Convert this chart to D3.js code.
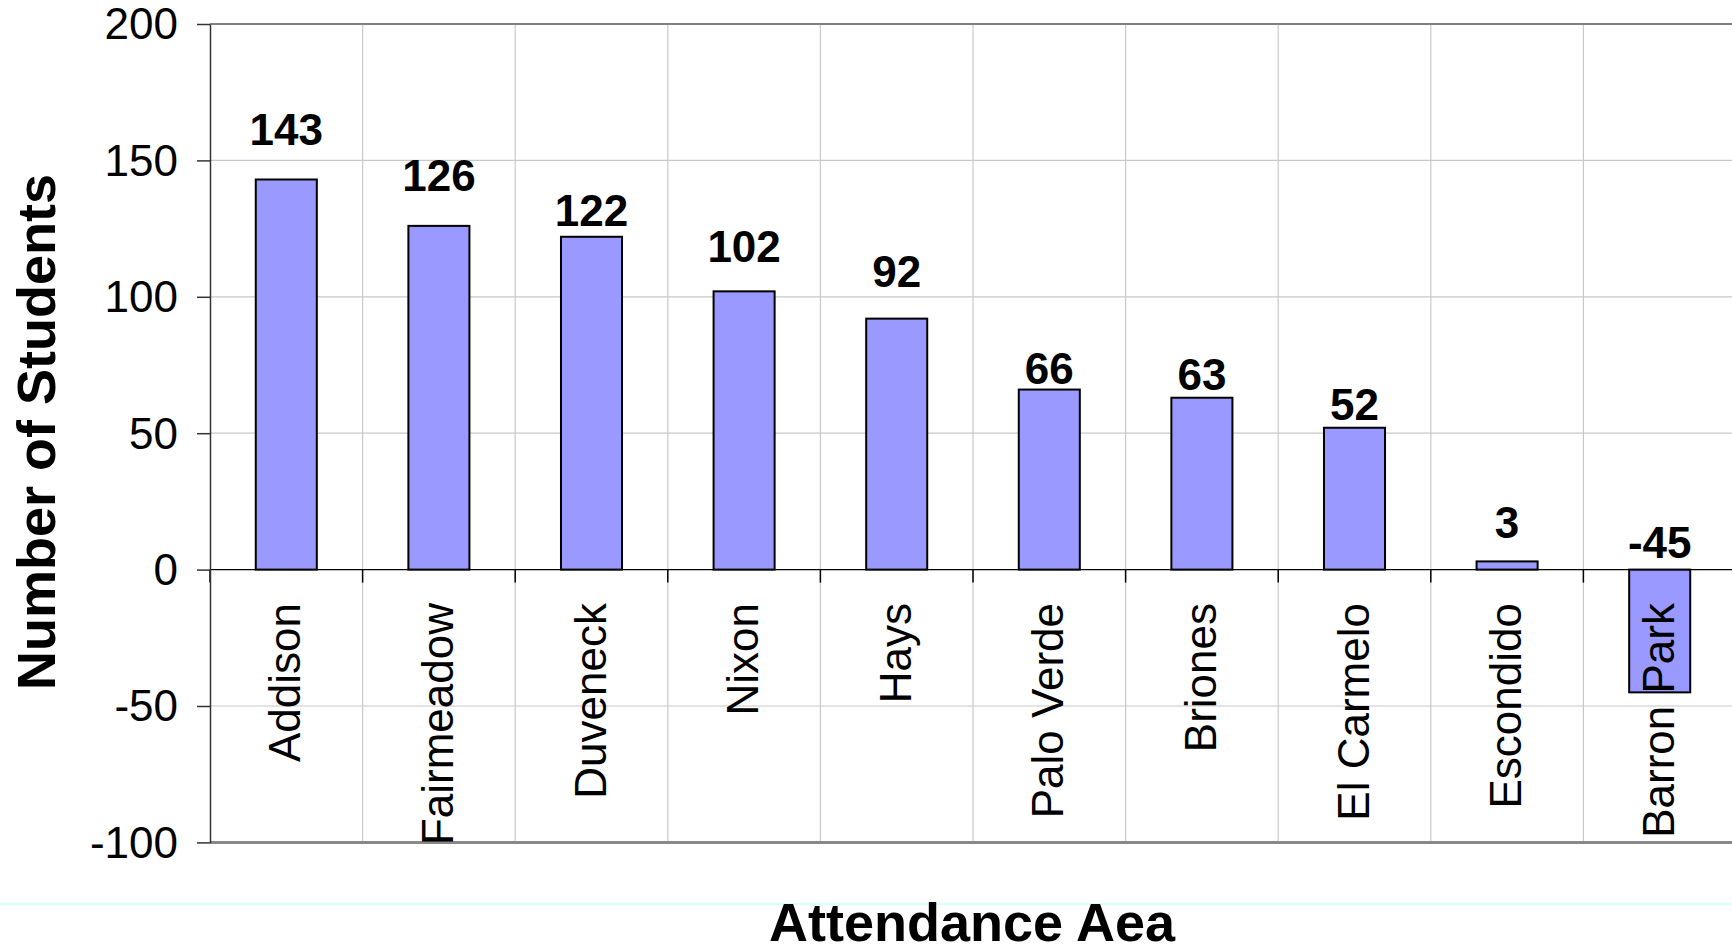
<!DOCTYPE html>
<html>
<head>
<meta charset="utf-8">
<script src="https://cdn.jsdelivr.net/npm/d3@7"></script>
<style>
  body { margin: 0; background: #fff; }
  text { font-family: 'Liberation Sans', Arial, sans-serif; }
</style>
</head>
<body>
<script>
// ---- data ----
var areas = ['Addison', 'Fairmeadow', 'Duveneck', 'Nixon', 'Hays', 'Palo Verde', 'Briones', 'El Carmelo', 'Escondido', 'Barron Park'];
var students = [143, 126, 122, 102, 92, 66, 63, 52, 3, -45];
// where each value label sits, in axis units (labels were placed by hand in the original)
var labelAnchor = [155.6, 138.8, 126, 112.9, 103.5, 67.9, 65.8, 54.8, 11.6, 4.3];
var yTicks = [-100, -50, 0, 50, 100, 150, 200];

var W = 1732, H = 947;
var LEFT = 210, RIGHT = 1736, TOP = 24, BOTTOM = 842.4;

var svg = d3.select('body').append('svg')
  .attr('width', W)
  .attr('height', H);

svg.append('rect').attr('width', W).attr('height', H).attr('fill', '#fff');

var x = d3.scaleBand().domain(areas).range([LEFT, RIGHT]);
var y = d3.scaleLinear().domain([-100, 200]).range([BOTTOM, TOP]);

// ---- grid ----
svg.selectAll('.hgrid')
  .data(yTicks.filter(function(d) { return d !== 200 && d !== -100 && d !== 0; }))
  .enter().append('line')
  .attr('class', 'hgrid')
  .attr('x1', LEFT).attr('x2', W)
  .attr('y1', function(d) { return y(d); })
  .attr('y2', function(d) { return y(d); })
  .attr('stroke', '#c8c8c8').attr('stroke-width', 1.2);

svg.selectAll('.vgrid')
  .data(areas.slice(1))
  .enter().append('line')
  .attr('class', 'vgrid')
  .attr('x1', function(d) { return x(d); })
  .attr('x2', function(d) { return x(d); })
  .attr('y1', TOP).attr('y2', BOTTOM)
  .attr('stroke', '#c8c8c8').attr('stroke-width', 1.2);

// plot frame top and bottom
svg.append('line').attr('x1', LEFT).attr('x2', W).attr('y1', TOP).attr('y2', TOP)
  .attr('stroke', '#808080').attr('stroke-width', 2);
svg.append('line').attr('x1', LEFT).attr('x2', W).attr('y1', BOTTOM).attr('y2', BOTTOM)
  .attr('stroke', '#888').attr('stroke-width', 3);

// ---- bars ----
var bw = x.bandwidth() * 0.4;
svg.selectAll('.bar')
  .data(students)
  .enter().append('rect')
  .attr('class', 'bar')
  .attr('x', function(d, i) { return x(areas[i]) + (x.bandwidth() - bw) / 2; })
  .attr('y', function(d) { return y(Math.max(0, d)); })
  .attr('width', bw)
  .attr('height', function(d) { return Math.abs(y(d) - y(0)); })
  .attr('fill', '#9999ff')
  .attr('stroke', '#000')
  .attr('stroke-width', 2);

// ---- x axis at zero ----
svg.append('line').attr('x1', LEFT).attr('x2', W).attr('y1', y(0)).attr('y2', y(0))
  .attr('stroke', '#000').attr('stroke-width', 1.2);
svg.selectAll('.xtick')
  .data(areas)
  .enter().append('line')
  .attr('class', 'xtick')
  .attr('x1', function(d) { return x(d); })
  .attr('x2', function(d) { return x(d); })
  .attr('y1', y(0)).attr('y2', y(0) + 13)
  .attr('stroke', '#000').attr('stroke-width', 1.5);

// ---- y axis ----
var yAxis = svg.append('g')
  .attr('transform', 'translate(' + LEFT + ',0)')
  .call(d3.axisLeft(y).tickValues(yTicks).tickSize(13).tickPadding(19).tickSizeOuter(0)
    .tickFormat(function(d) { return String(d); }));
yAxis.select('.domain').attr('stroke', '#333').attr('stroke-width', 1.5);
yAxis.selectAll('.tick line').attr('stroke', '#333').attr('stroke-width', 1.5);
yAxis.selectAll('.tick text')
  .attr('font-family', "'Liberation Sans', Arial, sans-serif")
  .attr('font-size', 44)
  .attr('fill', '#000')
  .attr('dy', '0.34em');

// ---- category labels ----
svg.selectAll('.cat')
  .data(areas)
  .enter().append('text')
  .attr('class', 'cat')
  .attr('transform', function(d) {
    return 'translate(' + (x(d) + x.bandwidth() / 2 + 14) + ',603) rotate(-90)';
  })
  .attr('text-anchor', 'end')
  .attr('font-size', 44)
  .attr('fill', '#000')
  .text(function(d) { return d; });

// ---- value labels ----
svg.selectAll('.val')
  .data(students)
  .enter().append('text')
  .attr('class', 'val')
  .attr('x', function(d, i) { return x(areas[i]) + x.bandwidth() / 2; })
  .attr('y', function(d, i) { return y(labelAnchor[i]); })
  .attr('text-anchor', 'middle')
  .attr('font-size', 44)
  .attr('font-weight', 'bold')
  .attr('fill', '#000')
  .text(function(d) { return d; });

// ---- titles ----
svg.append('text')
  .attr('transform', 'translate(55,432) rotate(-90)')
  .attr('text-anchor', 'middle')
  .attr('font-size', 54)
  .attr('font-weight', 'bold')
  .text('Number of Students');

svg.append('line').attr('x1', 0).attr('x2', W).attr('y1', 904).attr('y2', 904)
  .attr('stroke', '#ccffff').attr('stroke-width', 1.5);

svg.append('text')
  .attr('x', 972).attr('y', 941)
  .attr('text-anchor', 'middle')
  .attr('font-size', 54)
  .attr('font-weight', 'bold')
  .text('Attendance Aea');
</script>
</body>
</html>
